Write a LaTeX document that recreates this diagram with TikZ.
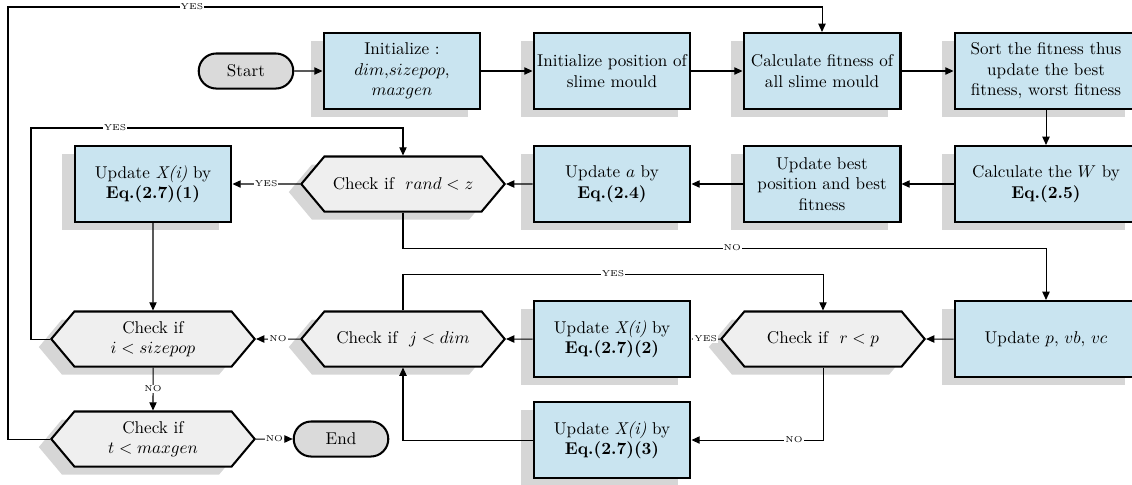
\documentclass[tikz,border=0pt]{standalone}
\usepackage[dvipsnames]{xcolor}
\usepackage{tikz}
\usetikzlibrary{arrows.meta, shapes.symbols, shapes.misc, shadows}

\definecolor{boxblue}{RGB}{201,228,240}
\definecolor{hexgray}{RGB}{239,239,239}
\definecolor{termgray}{RGB}{218,218,218}
\definecolor{shadegray}{RGB}{214,214,214}

\begin{document}
\begin{tikzpicture}[x=0.585pt, y=-0.585pt, semithick, >={Triangle[length=4.8pt,width=4.3pt]}]
  \tikzstyle{box}=[rectangle, draw, very thick, fill=boxblue, align=center, minimum width=91.8pt, minimum height=44.5pt, inner sep=2pt, drop shadow={shadow xshift=-7.3pt, shadow yshift=-4.7pt, fill=shadegray, opacity=1}]
  \tikzstyle{widebox}=[box, minimum width=107pt]
  \tikzstyle{check}=[signal, signal to=west and east, signal pointer angle=100, draw, very thick, fill=hexgray, align=center, minimum width=119pt, minimum height=32.2pt, inner sep=1pt, drop shadow={shadow xshift=-7.3pt, shadow yshift=-4.7pt, fill=shadegray, opacity=1}]
  \tikzstyle{term}=[rounded rectangle, draw, very thick, fill=termgray, minimum width=62pt, minimum height=20.5pt]
  \tikzstyle{lbl}=[fill=white, font=\tiny, inner sep=0.6pt]
  \useasboundingbox (0,0) rectangle (1132,484);

  \node[term] (start) at (246,71) {Start};
  \node[box] (init) at (402,71) {Initialize :\\ $dim$,$sizepop$,\\ $maxgen$};
  \node[box] (initpos) at (612,71) {Initialize position of\\ slime mould};
  \node[box] (fit) at (822,71) {Calculate fitness of\\ all slime mould};
  \node[widebox] (sort) at (1046,71) {Sort the fitness thus\\ update the best\\ fitness, worst fitness};

  \node[widebox] (calcW) at (1046,184) {Calculate the $W$ by\\ \textbf{Eq.(2.5)}};
  \node[box] (best) at (822,184) {Update best\\ position and best\\ fitness};
  \node[box] (upda) at (612,184) {Update $a$ by\\ \textbf{Eq.(2.4)}};
  \node[check] (c_rand) at (403,184) {Check if \ $rand<z$};
  \node[box] (x1) at (153,184) {Update \textit{X(i)} by\\ \textbf{Eq.(2.7)(1)}};

  \node[widebox] (updp) at (1046,339) {Update $p$, $vb$, $vc$};
  \node[check] (c_r) at (823,339) {Check if \ $r<p$};
  \node[box] (x2) at (612,339) {Update \textit{X(i)} by\\ \textbf{Eq.(2.7)(2)}};
  \node[check] (c_j) at (403,339) {Check if \ $j<dim$};
  \node[check] (c_i) at (153,339) {Check if\\ $i<sizepop$};

  \node[check] (c_t) at (153,439) {Check if\\ $t<maxgen$};
  \node[term] (end) at (341,439) {End};
  \node[box] (x3) at (612,440) {Update \textit{X(i)} by\\ \textbf{Eq.(2.7)(3)}};

  \draw[->] (start) -- (init);
  \draw[->] (init) -- (initpos);
  \draw[->] (initpos) -- (fit);
  \draw[->] (fit) -- (sort);
  \draw[->] (sort) -- (calcW);
  \draw[->] (calcW) -- (best);
  \draw[->] (best) -- (upda);
  \draw[->] (upda) -- (c_rand);
  \draw[->] (c_rand) -- node[lbl] {YES} (x1);
  \draw[->] (x1) -- (c_i);
  \draw[->] (c_rand.south) -- (403,248) -| node[lbl, pos=0.256] {NO} (updp.north);
  \draw[->] (updp) -- (c_r);
  \draw[->] (c_r) -- node[lbl] {YES} (x2);
  \draw[->] (c_r.south) |- node[lbl, pos=0.61] {NO} (x3.east);
  \draw[->] (x2) -- (c_j);
  \draw[->] (x3.west) -| (c_j.south);
  \draw[->] (c_j.north) -- (403,274) -| node[lbl, pos=0.25] {YES} (c_r.north);
  \draw[->] (c_j) -- node[lbl] {NO} (c_i);
  \draw[->] (c_i) -- node[lbl] {NO} (c_t);
  \draw[->] (c_i.west) -| (31,128) -| node[lbl, pos=0.113] {YES} (c_rand.north);
  \draw[->] (c_t) -- node[lbl] {NO} (end);
  \draw[->] (c_t.west) -| (8,7) -| node[lbl, pos=0.113] {YES} (fit.north);
\end{tikzpicture}
\end{document}
